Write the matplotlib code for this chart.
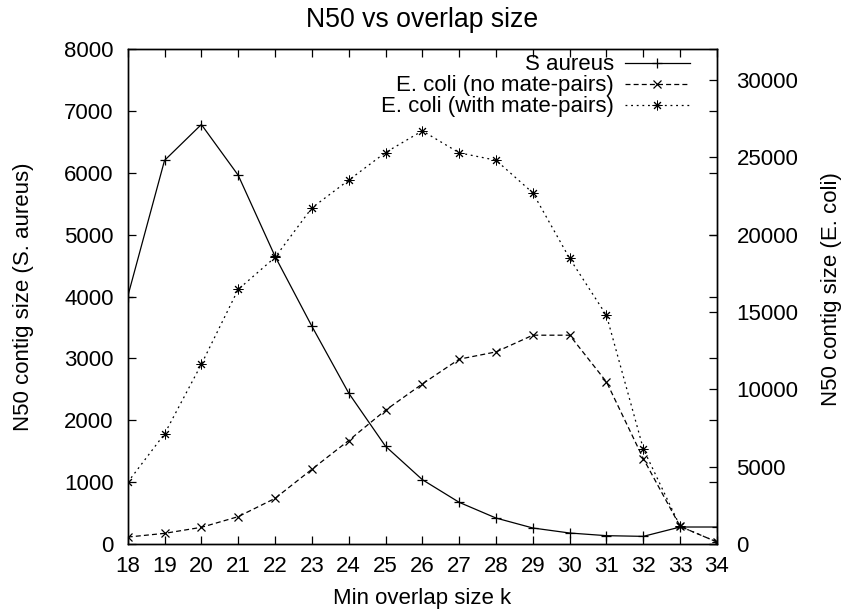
import matplotlib
matplotlib.use("Agg")
import matplotlib.pyplot as plt

# data
k = [18, 19, 20, 21, 22, 23, 24, 25, 26, 27, 28, 29, 30, 31, 32, 33, 34]
s_aureus = [4000, 6200, 6780, 5960, 4650, 3520, 2440, 1580, 1040, 674,
            420, 259, 178, 135, 124, 275, 275]
ecoli_no_mp = [450, 690, 1080, 1770, 2950, 4830, 6690, 8650, 10350, 11950,
               12420, 13500, 13500, 10480, 5520, 1140, 130]
ecoli_mp = [3990, 7120, 11620, 16460, 18530, 21730, 23520, 25310, 26710, 25290,
            24810, 22700, 18460, 14780, 6150, 1140, 130]

plt.rcParams["font.family"] = ["Liberation Sans", "DejaVu Sans"]
plt.rcParams["font.size"] = 16

fig = plt.figure(figsize=(8.48, 6.15), dpi=100)
ax = fig.add_axes([0.1506, 0.1154, 0.8455 - 0.1506, 0.9203 - 0.1154])
ax2 = ax.twinx()

asterisk = (8, 2, 0)
l1, = ax.plot(k, s_aureus, color="black", lw=0.9, marker="+", ms=6.5,
              mew=0.9, label="S aureus")
l2, = ax2.plot(k, ecoli_no_mp, color="black", lw=0.9, ls=(0, (4, 2.5)),
               marker="x", ms=5.5, mew=0.9, label="E. coli (no mate-pairs)")
l3, = ax2.plot(k, ecoli_mp, color="black", lw=0.9, ls=(0, (1.5, 3)),
               marker=asterisk, ms=7, mew=0.7, label="E. coli (with mate-pairs)")

ax.set_xlim(18, 34)
ax.set_ylim(0, 8000)
ax2.set_ylim(0, 32000)
ax.set_xticks(k)
ax.set_yticks(range(0, 8001, 1000))
ax2.set_yticks(range(0, 30001, 5000))

ax.tick_params(axis="x", direction="in", length=6, width=0.9, top=True, pad=8.5)
ax.tick_params(axis="y", direction="in", length=6, width=0.9, right=True,
               labelright=False, pad=10)
ax2.tick_params(direction="in", length=6, width=0.9, pad=14)
for a in (ax, ax2):
    for s in a.spines.values():
        s.set_linewidth(1.0)

ax.set_title("N50 vs overlap size", pad=16)
ax.set_xlabel("Min overlap size k")
ax.xaxis.set_label_coords(0.5, -0.089)
ax.set_ylabel("N50 contig size (S. aureus)")
ax.yaxis.set_label_coords(-0.159, 0.5)
ax2.set_ylabel("N50 contig size (E. coli)")
ax2.yaxis.set_label_coords(1.1765, 0.515)

leg = ax2.legend(handles=[l1, l2, l3], loc="upper right",
                 bbox_to_anchor=(0.954, 0.989), frameon=False,
                 markerfirst=False, fontsize=16, handlelength=2.93,
                 handletextpad=0.5, labelspacing=0.0,
                 borderaxespad=0, borderpad=0)

fig.savefig("out.png", dpi=100)
